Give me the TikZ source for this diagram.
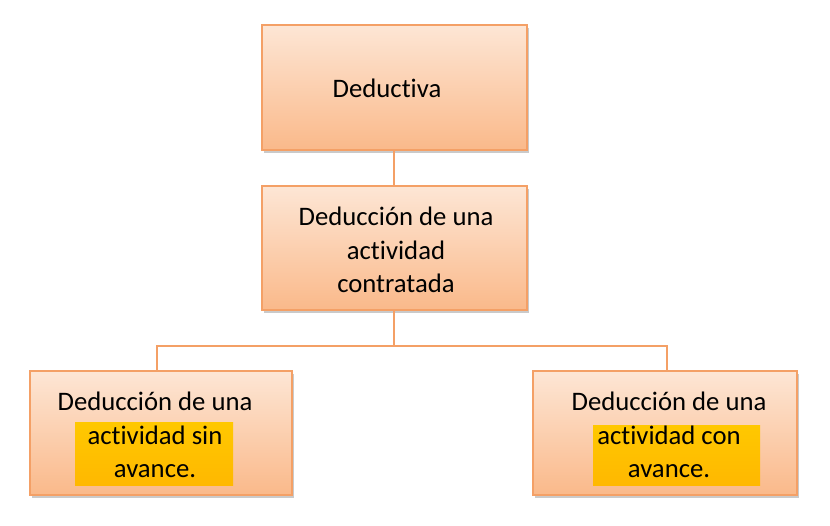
\documentclass[tikz,border=0pt]{standalone}
\usepackage{fontspec}
\setmainfont[RawFeature={-liga;-dlig}]{Carlito}
\usetikzlibrary{shadows,positioning}
\definecolor{boxtop}{HTML}{FDE6D5}
\definecolor{boxbot}{HTML}{FAB98A}
\definecolor{boxline}{HTML}{F4A066}
\definecolor{hltop}{HTML}{FFC800}
\definecolor{hlbot}{HTML}{FFB800}
\tikzset{
  orgbox/.style={draw=boxline, line width=1.6pt, top color=boxtop, bottom color=boxbot,
    drop shadow={shadow xshift=2pt, shadow yshift=-3pt, opacity=0.35, fill=black!60}},
  hl/.style={fill=hlbot, top color=hltop, bottom color=hlbot, draw=none, inner sep=0pt},
  lbl/.style={font=\fontsize{26.7}{33.5}\selectfont, align=center, inner sep=0pt, text=black},
  conn/.style={draw=boxline, line width=1.6pt}
}
\begin{document}
\begin{tikzpicture}[x=1pt,y=-1pt]
\useasboundingbox (0,0) rectangle (830,526);
% junction coordinates
\coordinate (j) at (394,346);
\coordinate (jl) at (157,346);
\coordinate (jr) at (667,346);
% boxes
\node[orgbox, minimum width=265pt, minimum height=125pt] (top) at (394.5,87.5) {};
\node[orgbox, minimum width=265pt, minimum height=124pt] (mid) at (394.5,248) {};
\node[orgbox, minimum width=262pt, minimum height=124pt] (left) at (161,433) {};
\node[orgbox, minimum width=264pt, minimum height=124pt] (right) at (665,433) {};
% connectors
\draw[conn] (top.south -| j) -- (mid.north -| j);
\draw[conn] (mid.south -| j) -- (j) -- (jl) -- (left.north -| jl);
\draw[conn] (j) -- (jr) -- (right.north -| jr);
% highlights
\node[hl, minimum width=158pt, minimum height=62pt] (hlL) at (154,454) {};
\node[hl, minimum width=167pt, minimum height=60pt] (hlR) at (676.5,455) {};
% texts
\node[lbl] (tTop) at (387,88) {Deductiva};
\node[lbl] (tMid) at (396,250) {Deducción de una\\actividad\\contratada};
\node[lbl] (tL) at (155,435) {Deducción de una\\actividad sin\\avance.};
\node[lbl] (tR) at (669,435) {Deducción de una\\actividad con\\avance.};
\end{tikzpicture}
\end{document}
